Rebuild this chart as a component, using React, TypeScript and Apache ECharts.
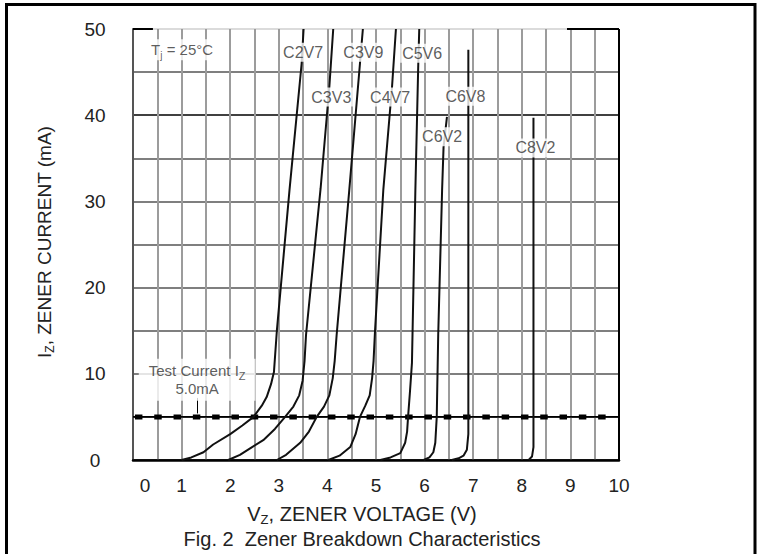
import React, { useEffect, useRef } from 'react';
import * as echarts from 'echarts';

// ---- data (V in volts, I in mA) ----
const xMin = 0;
const xMax = 10;
const yMin = 0;
const yMax = 50;

const C2V7 = [[1.0,0],[1.2,0.3],[1.45,0.9],[1.65,1.8],[2.0,3.0],[2.25,4.0],[2.48,5.0],[2.65,6.3],[2.75,7.3],[2.84,8.8],[2.9,10.2],[2.96,15],[3.22,31.3],[3.47,46],[3.51,50]];
const C3V3 = [[1.96,0],[2.2,0.6],[2.45,1.5],[2.68,2.3],[2.92,3.6],[3.13,5],[3.3,6.2],[3.42,7.5],[3.49,9.2],[3.53,11.5],[3.56,14.5],[3.86,31.5],[4.04,43.3],[4.12,50]];
const C3V9 = [[2.96,0],[3.15,0.6],[3.44,2.0],[3.62,3.3],[3.78,5],[3.93,6.2],[4.04,7.5],[4.11,9.5],[4.15,11.5],[4.19,14.5],[4.45,31.3],[4.67,46],[4.73,50]];
const C4V7 = [[4.02,0],[4.25,0.5],[4.47,1.5],[4.58,3.0],[4.67,5],[4.78,6.3],[4.87,7.5],[4.92,9.5],[4.95,11.5],[4.98,15],[5.15,31.3],[5.33,43.3],[5.41,50]];
const C5V6 = [[5.09,0],[5.3,0.3],[5.5,0.8],[5.6,2.0],[5.64,3.3],[5.66,5],[5.7,8],[5.74,11.3],[5.81,31.3],[5.87,46],[5.89,50]];
const C6V2 = [[5.98,0],[6.1,0.3],[6.18,0.9],[6.22,2.0],[6.25,5],[6.28,14.5],[6.36,31.3],[6.39,36.3],[6.46,39.8]];
const C6V8 = [[6.56,0],[6.7,0.2],[6.8,0.5],[6.87,1.2],[6.9,3],[6.9,47.6]];
const C8V2 = [[8.14,0],[8.21,0.4],[8.24,1.5],[8.24,39.7]];

const curves = [C2V7, C3V3, C3V9, C4V7, C5V6, C6V2, C6V8, C8V2];
const curveNames = ['C2V7', 'C3V3', 'C3V9', 'C4V7', 'C5V6', 'C6V2', 'C6V8', 'C8V2'];
// label anchor for each curve name, in data coordinates [V, mA]
const curveLabelAt = [[3.5,47.3],[4.08,42.1],[4.74,47.3],[5.29,42.1],[5.95,47.2],[6.36,37.5],[6.84,42.2],[8.28,36.2]];

const testCurrent = 5.0;
const testLineSpan = [0, 10];
const testDashSpan = [0.04, 9.76];
const testArrow = [[1.32, 7.2], [1.32, 5.4]];
const testLabelAt = [1.32, 9.3];
const tjLabelAt = [1.01, 47.6];
const topBlackSegments = [[0, 0.41], [8.93, 10]];

const FONT = '"Liberation Sans", Arial, Helvetica, sans-serif';
const INK = '#222';

export default function App() {
  const ref = useRef<HTMLDivElement>(null);

  useEffect(() => {
    if (!ref.current) return;
    const chart = echarts.init(ref.current, undefined, { renderer: 'svg' });

    const curveSeries = curves.map((d, k) => ({
      type: 'line',
      name: curveNames[k],
      data: d,
      showSymbol: false,
      symbol: 'none',
      silent: true,
      z: 4,
      lineStyle: { color: '#111', width: 2 },
    }));

    const option: any = {
      animation: false,
      backgroundColor: '#fff',
      textStyle: { fontFamily: FONT },
      grid: { left: 133, top: 29, right: 144, bottom: 94, containLabel: false },
      xAxis: {
        type: 'value',
        min: xMin,
        max: xMax,
        interval: 1,
        axisLine: { show: true, lineStyle: { color: '#000', width: 2.5 } },
        axisTick: { show: false },
        minorTick: { show: false, splitNumber: 2 },
        axisLabel: {
          color: INK,
          fontSize: 19,
          fontFamily: FONT,
          margin: 16,
          formatter: (v: number) => (v === 0 ? '{z|0}' : String(v)),
          rich: { z: { fontSize: 19, fontFamily: FONT, color: INK, padding: [0, 0, 0, 24] } },
        },
        splitLine: { show: true, lineStyle: { color: '#9c9c9c', width: 2 } },
        minorSplitLine: { show: true, lineStyle: { color: '#9c9c9c', width: 2 } },
      },
      yAxis: {
        type: 'value',
        min: yMin,
        max: yMax,
        interval: 10,
        axisLine: { show: true, lineStyle: { color: '#555', width: 2 } },
        axisTick: { show: false },
        minorTick: { show: false, splitNumber: 2 },
        axisLabel: { color: INK, fontSize: 19, fontFamily: FONT, margin: 38, align: 'center' },
        splitLine: {
          show: true,
          lineStyle: { color: ['#000', '#555', '#555', '#555', '#000', '#cfcfcf'], width: 1.7 },
        },
        minorSplitLine: { show: true, lineStyle: { color: '#555', width: 1.7 } },
      },
      graphic: [
        {
          type: 'polyline',
          silent: true,
          shape: { points: [[6.5, 560], [6.5, 4.5], [755, 4.5], [755, 560]] },
          style: { stroke: '#000', lineWidth: 3, fill: null },
          z: 100,
        },
        {
          type: 'text',
          silent: true,
          x: 362,
          y: 514,
          style: {
            text: '{m|V}{s|Z}{m|, ZENER VOLTAGE (V)}',
            align: 'center',
            verticalAlign: 'middle',
            fill: INK,
            rich: {
              m: { fontSize: 20, fontFamily: FONT, color: INK, lineHeight: 20 },
              s: { fontSize: 13, fontFamily: FONT, color: INK, lineHeight: 12, padding: [10, 0, 0, 0] },
            },
          },
        },
        {
          type: 'text',
          silent: true,
          x: 362,
          y: 539,
          style: {
            text: 'Fig. 2  Zener Breakdown Characteristics',
            align: 'center',
            verticalAlign: 'middle',
            fill: INK,
            font: `20px ${FONT}`,
          },
        },
        {
          type: 'text',
          silent: true,
          x: 44,
          y: 242,
          rotation: Math.PI / 2,
          style: {
            text: '{m|I}{s|Z}{m|, ZENER CURRENT (mA)}',
            align: 'center',
            verticalAlign: 'middle',
            fill: INK,
            rich: {
              m: { fontSize: 19, fontFamily: FONT, color: INK, lineHeight: 19 },
              s: { fontSize: 12, fontFamily: FONT, color: INK, lineHeight: 12, padding: [12, 0, 0, 0] },
            },
          },
        },
      ],
      series: [
        // black segments on the top border
        ...topBlackSegments.map((s) => ({
          type: 'line',
          data: [[s[0], yMax], [s[1], yMax]],
          showSymbol: false,
          symbol: 'none',
          silent: true,
          clip: false,
          z: 3,
          lineStyle: { color: '#000', width: 2 },
        })),
        // right border
        {
          type: 'line',
          data: [[xMax, yMin], [xMax, yMax]],
          showSymbol: false,
          symbol: 'none',
          silent: true,
          clip: false,
          z: 3,
          lineStyle: { color: '#000', width: 2 },
        },
        // test current: thin solid line
        {
          type: 'line',
          data: [[testLineSpan[0], testCurrent], [testLineSpan[1], testCurrent]],
          showSymbol: false,
          symbol: 'none',
          silent: true,
          z: 3,
          lineStyle: { color: '#000', width: 1.6 },
          markLine: {
            silent: true,
            animation: false,
            symbol: ['none', 'arrow'],
            symbolSize: [0, 6],
            label: { show: false },
            lineStyle: { color: '#000', width: 1, type: 'solid' },
            data: [[{ coord: testArrow[0] }, { coord: testArrow[1] }]],
          },
        },
        // test current: heavy dashes
        {
          type: 'line',
          data: [[testDashSpan[0], testCurrent], [testDashSpan[1], testCurrent]],
          showSymbol: false,
          symbol: 'none',
          silent: true,
          z: 3,
          lineStyle: { color: '#000', width: 5, type: [7.5, 11.8], cap: 'butt' },
        },
        ...curveSeries,
        // curve name labels
        {
          type: 'scatter',
          silent: true,
          symbolSize: 1,
          z: 10,
          itemStyle: { color: 'rgba(0,0,0,0)' },
          data: curveNames.map((n, k) => ({ name: n, value: curveLabelAt[k] })),
          label: {
            show: true,
            position: 'inside',
            formatter: '{b}',
            color: '#333',
            fontSize: 16,
            fontFamily: FONT,
            backgroundColor: '#fff',
            padding: [2, 2, 1, 2],
          },
        },
        // Tj label
        {
          type: 'scatter',
          silent: true,
          symbolSize: 1,
          z: 10,
          itemStyle: { color: 'rgba(0,0,0,0)' },
          data: [{ name: 'Tj', value: tjLabelAt }],
          label: {
            show: true,
            position: 'inside',
            formatter: '{m|T}{s|j}{m| = 25°C}',
            backgroundColor: '#fff',
            padding: [3, 6, 3, 6],
            rich: {
              m: { fontSize: 15, fontFamily: FONT, color: '#333', lineHeight: 15 },
              s: { fontSize: 10, fontFamily: FONT, color: '#333', lineHeight: 10, padding: [11, 0, 0, 0] },
            },
          },
        },
        // test current label
        {
          type: 'scatter',
          silent: true,
          symbolSize: 1,
          z: 10,
          itemStyle: { color: 'rgba(0,0,0,0)' },
          data: [{ name: 'test', value: testLabelAt }],
          label: {
            show: true,
            position: 'inside',
            formatter: '{m|Test Current I}{s|Z}\n{m|' + testCurrent.toFixed(1) + 'mA}',
            backgroundColor: '#fff',
            padding: [3, 10, 3, 10],
            align: 'center',
            rich: {
              m: { fontSize: 15, fontFamily: FONT, color: '#333', lineHeight: 18, align: 'center' },
              s: { fontSize: 11, fontFamily: FONT, color: '#333', lineHeight: 11, padding: [10, 0, 0, 0] },
            },
          },
        },
      ],
    };

    chart.setOption(option);
    return () => {
      chart.dispose();
    };
  }, []);

  return (
    <div
      ref={ref}
      style={{ position: 'absolute', left: 0, top: 0, width: 763, height: 554, background: '#fff' }}
    />
  );
}
